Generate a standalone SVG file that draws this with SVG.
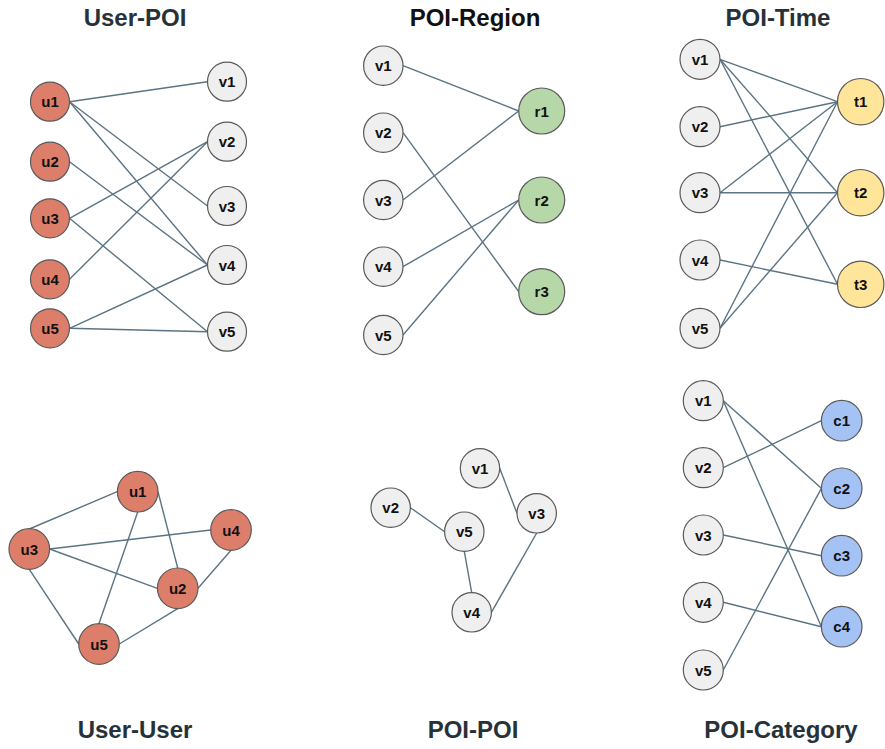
<svg xmlns="http://www.w3.org/2000/svg" width="885" height="749" viewBox="0 0 885 749">
  <style>
    .title { font-family: "Liberation Sans", Arial, sans-serif; font-size: 24px; font-weight: bold; fill: #263238; text-anchor: middle; }
    .title.black { fill: #111111; }
    .node circle { stroke: #5a5a5a; stroke-width: 1.2; }
    .node text { font-family: "Liberation Sans", Arial, sans-serif; font-size: 15px; font-weight: bold; fill: #111111; text-anchor: middle; dominant-baseline: central; }
    .user circle { fill: #dd7e6b; }
    .poi circle { fill: #efefef; }
    .region circle { fill: #b6d7a8; }
    .time circle { fill: #ffe599; }
    .cat circle { fill: #a4c2f4; }
    .edges line { stroke: #5b7483; stroke-width: 1.4; fill: none; }
  </style>
  <rect width="885" height="749" fill="#ffffff"/>

  <!-- panel titles -->
  <text class="title" x="135" y="26">User-POI</text>
  <text class="title black" x="475" y="26">POI-Region</text>
  <text class="title" x="778" y="26">POI-Time</text>
  <text class="title" x="135" y="738">User-User</text>
  <text class="title" x="473" y="738">POI-POI</text>
  <text class="title" x="781" y="738">POI-Category</text>

  <!-- connectors -->
  <g id="connectors" class="edges">
    <!-- User-POI -->
    <line x1="69.5" y1="101.7" x2="207.5" y2="81.7"/>
    <line x1="69.5" y1="101.7" x2="207.5" y2="206"/>
    <line x1="69.5" y1="101.7" x2="207.5" y2="265"/>
    <line x1="69.5" y1="161.7" x2="207.5" y2="265"/>
    <line x1="69.5" y1="218.3" x2="207.5" y2="141.7"/>
    <line x1="69.5" y1="218.3" x2="207.5" y2="331.7"/>
    <line x1="69.5" y1="279.3" x2="207.5" y2="141.7"/>
    <line x1="69.5" y1="328.3" x2="207.5" y2="265"/>
    <line x1="69.5" y1="328.3" x2="207.5" y2="331.7"/>
    <!-- POI-Region -->
    <line x1="403" y1="65.7" x2="518.7" y2="111"/>
    <line x1="403" y1="200" x2="518.7" y2="111"/>
    <line x1="403" y1="132.7" x2="518.7" y2="291.7"/>
    <line x1="403" y1="266.7" x2="518.7" y2="200"/>
    <line x1="403" y1="335" x2="518.7" y2="200"/>
    <!-- POI-Time -->
    <line x1="720" y1="59.3" x2="837.5" y2="101.7"/>
    <line x1="720" y1="59.3" x2="837.5" y2="192.7"/>
    <line x1="720" y1="59.3" x2="837.5" y2="284.3"/>
    <line x1="720" y1="126.7" x2="837.5" y2="101.7"/>
    <line x1="720" y1="192.7" x2="837.5" y2="101.7"/>
    <line x1="720" y1="192.7" x2="837.5" y2="192.7"/>
    <line x1="720" y1="260" x2="837.5" y2="284.3"/>
    <line x1="720" y1="328.3" x2="837.5" y2="101.7"/>
    <line x1="720" y1="328.3" x2="837.5" y2="192.7"/>
    <!-- User-User -->
    <line x1="29.3" y1="529" x2="117.3" y2="491.7"/>
    <line x1="137.7" y1="512" x2="99" y2="623.5"/>
    <line x1="158" y1="491.7" x2="177.7" y2="568"/>
    <line x1="49.6" y1="549" x2="210.7" y2="530"/>
    <line x1="49.6" y1="549" x2="157.4" y2="588.3"/>
    <line x1="29.3" y1="569.3" x2="78.7" y2="644"/>
    <line x1="231" y1="550.3" x2="198" y2="588.3"/>
    <line x1="177.7" y1="608.6" x2="119.3" y2="644"/>
    <!-- POI-POI -->
    <line x1="499.7" y1="468.3" x2="517" y2="513.3"/>
    <line x1="410.4" y1="507.7" x2="444.6" y2="531.7"/>
    <line x1="464.3" y1="551.4" x2="471.7" y2="592.6"/>
    <line x1="536.7" y1="533" x2="491.4" y2="612.3"/>
    <!-- POI-Category -->
    <line x1="723.3" y1="400.7" x2="821.4" y2="488.3"/>
    <line x1="723.3" y1="400.7" x2="821.4" y2="626.7"/>
    <line x1="723.3" y1="467.7" x2="821.4" y2="420.7"/>
    <line x1="723.3" y1="535" x2="821.4" y2="555.7"/>
    <line x1="723.3" y1="602.3" x2="821.4" y2="626.7"/>
    <line x1="723.3" y1="670" x2="821.4" y2="488.3"/>
  </g>

  <!-- User-POI nodes -->
  <g id="up-u1" class="node user"><circle cx="50" cy="101.7" r="19.5"/><text x="50" y="101.7">u1</text></g>
  <g id="up-u2" class="node user"><circle cx="50" cy="161.7" r="19.5"/><text x="50" y="161.7">u2</text></g>
  <g id="up-u3" class="node user"><circle cx="50" cy="218.3" r="19.5"/><text x="50" y="218.3">u3</text></g>
  <g id="up-u4" class="node user"><circle cx="50" cy="279.3" r="19.5"/><text x="50" y="279.3">u4</text></g>
  <g id="up-u5" class="node user"><circle cx="50" cy="328.3" r="19.5"/><text x="50" y="328.3">u5</text></g>
  <g id="up-v1" class="node poi"><circle cx="227" cy="81.7" r="19.5"/><text x="227" y="81.7">v1</text></g>
  <g id="up-v2" class="node poi"><circle cx="227" cy="141.7" r="19.5"/><text x="227" y="141.7">v2</text></g>
  <g id="up-v3" class="node poi"><circle cx="227" cy="206" r="19.5"/><text x="227" y="206">v3</text></g>
  <g id="up-v4" class="node poi"><circle cx="227" cy="265" r="19.5"/><text x="227" y="265">v4</text></g>
  <g id="up-v5" class="node poi"><circle cx="227" cy="331.7" r="19.5"/><text x="227" y="331.7">v5</text></g>

  <!-- POI-Region nodes -->
  <g id="pr-v1" class="node poi"><circle cx="383.3" cy="65.7" r="19.7"/><text x="383.3" y="65.7">v1</text></g>
  <g id="pr-v2" class="node poi"><circle cx="383.3" cy="132.7" r="19.7"/><text x="383.3" y="132.7">v2</text></g>
  <g id="pr-v3" class="node poi"><circle cx="383.3" cy="200" r="19.7"/><text x="383.3" y="200">v3</text></g>
  <g id="pr-v4" class="node poi"><circle cx="383.3" cy="266.7" r="19.7"/><text x="383.3" y="266.7">v4</text></g>
  <g id="pr-v5" class="node poi"><circle cx="383.3" cy="335" r="19.7"/><text x="383.3" y="335">v5</text></g>
  <g id="pr-r1" class="node region"><circle cx="541.7" cy="111" r="23"/><text x="541.7" y="111">r1</text></g>
  <g id="pr-r2" class="node region"><circle cx="541.7" cy="200" r="23"/><text x="541.7" y="200">r2</text></g>
  <g id="pr-r3" class="node region"><circle cx="541.7" cy="291.7" r="23"/><text x="541.7" y="291.7">r3</text></g>

  <!-- POI-Time nodes -->
  <g id="pt-v1" class="node poi"><circle cx="700" cy="59.3" r="20"/><text x="700" y="59.3">v1</text></g>
  <g id="pt-v2" class="node poi"><circle cx="700" cy="126.7" r="20"/><text x="700" y="126.7">v2</text></g>
  <g id="pt-v3" class="node poi"><circle cx="700" cy="192.7" r="20"/><text x="700" y="192.7">v3</text></g>
  <g id="pt-v4" class="node poi"><circle cx="700" cy="260" r="20"/><text x="700" y="260">v4</text></g>
  <g id="pt-v5" class="node poi"><circle cx="700" cy="328.3" r="20"/><text x="700" y="328.3">v5</text></g>
  <g id="pt-t1" class="node time"><circle cx="860.7" cy="101.7" r="23.2"/><text x="860.7" y="101.7">t1</text></g>
  <g id="pt-t2" class="node time"><circle cx="860.7" cy="192.7" r="23.2"/><text x="860.7" y="192.7">t2</text></g>
  <g id="pt-t3" class="node time"><circle cx="860.7" cy="284.3" r="23.2"/><text x="860.7" y="284.3">t3</text></g>

  <!-- User-User nodes -->
  <g id="uu-u1" class="node user"><circle cx="137.7" cy="491.7" r="20.3"/><text x="137.7" y="491.7">u1</text></g>
  <g id="uu-u2" class="node user"><circle cx="177.7" cy="588.3" r="20.3"/><text x="177.7" y="588.3">u2</text></g>
  <g id="uu-u3" class="node user"><circle cx="29.3" cy="549" r="20.3"/><text x="29.3" y="549">u3</text></g>
  <g id="uu-u4" class="node user"><circle cx="231" cy="530" r="20.3"/><text x="231" y="530">u4</text></g>
  <g id="uu-u5" class="node user"><circle cx="99" cy="644" r="20.3"/><text x="99" y="644">u5</text></g>

  <!-- POI-POI nodes -->
  <g id="pp-v1" class="node poi"><circle cx="480" cy="468.3" r="19.7"/><text x="480" y="468.3">v1</text></g>
  <g id="pp-v2" class="node poi"><circle cx="390.7" cy="507.7" r="19.7"/><text x="390.7" y="507.7">v2</text></g>
  <g id="pp-v3" class="node poi"><circle cx="536.7" cy="513.3" r="19.7"/><text x="536.7" y="513.3">v3</text></g>
  <g id="pp-v4" class="node poi"><circle cx="471.7" cy="612.3" r="19.7"/><text x="471.7" y="612.3">v4</text></g>
  <g id="pp-v5" class="node poi"><circle cx="464.3" cy="531.7" r="19.7"/><text x="464.3" y="531.7">v5</text></g>

  <!-- POI-Category nodes -->
  <g id="pc-v1" class="node poi"><circle cx="703.3" cy="400.7" r="20"/><text x="703.3" y="400.7">v1</text></g>
  <g id="pc-v2" class="node poi"><circle cx="703.3" cy="467.7" r="20"/><text x="703.3" y="467.7">v2</text></g>
  <g id="pc-v3" class="node poi"><circle cx="703.3" cy="535" r="20"/><text x="703.3" y="535">v3</text></g>
  <g id="pc-v4" class="node poi"><circle cx="703.3" cy="602.3" r="20"/><text x="703.3" y="602.3">v4</text></g>
  <g id="pc-v5" class="node poi"><circle cx="703.3" cy="670" r="20"/><text x="703.3" y="670">v5</text></g>
  <g id="pc-c1" class="node cat"><circle cx="841.7" cy="420.7" r="20.3"/><text x="841.7" y="420.7">c1</text></g>
  <g id="pc-c2" class="node cat"><circle cx="841.7" cy="488.3" r="20.3"/><text x="841.7" y="488.3">c2</text></g>
  <g id="pc-c3" class="node cat"><circle cx="841.7" cy="555.7" r="20.3"/><text x="841.7" y="555.7">c3</text></g>
  <g id="pc-c4" class="node cat"><circle cx="841.7" cy="626.7" r="20.3"/><text x="841.7" y="626.7">c4</text></g>
</svg>
